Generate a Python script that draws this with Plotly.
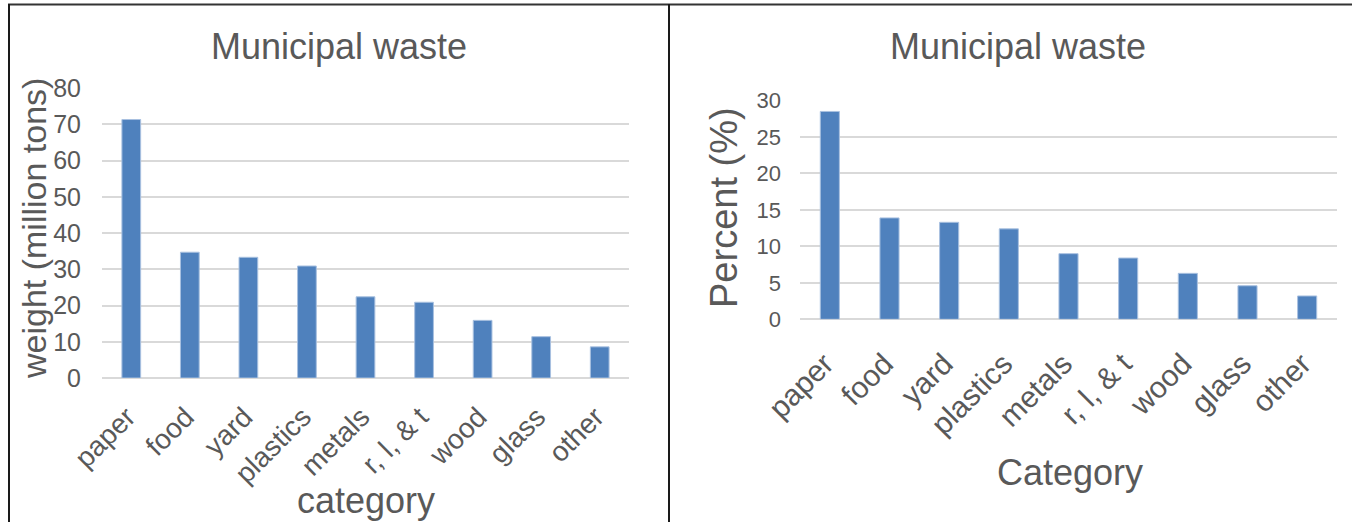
import plotly.graph_objects as go

# Municipal solid waste by material category
categories = ["paper", "food", "yard", "plastics", "metals", "r, l, & t", "wood", "glass", "other"]
weight_million_tons = [71.3, 34.7, 33.3, 30.9, 22.4, 20.9, 15.9, 11.4, 8.6]
percent_of_total = [28.5, 13.9, 13.3, 12.4, 9.0, 8.4, 6.3, 4.6, 3.2]

W, H = 1352, 522
BAR = "#4F81BD"
EDGE = "#A9C1E0"
TXT = "#595959"
GRID = "#D9D9D9"
FONT = "Liberation Sans, Arial, sans-serif"


def px_x(v):
    return v / W


def px_y(v):
    return 1 - v / H


fig = go.Figure()

fig.add_trace(go.Bar(
    x=categories, y=weight_million_tons, xaxis="x", yaxis="y",
    marker=dict(color=BAR, line=dict(color=EDGE, width=1)),
    showlegend=False,
))
fig.add_trace(go.Bar(
    x=categories, y=percent_of_total, xaxis="x2", yaxis="y2",
    marker=dict(color=BAR, line=dict(color=EDGE, width=1)),
    showlegend=False,
))

common_x = dict(
    type="category", showgrid=False, showline=False, zeroline=False,
    ticks="", tickangle=-45, automargin=False,
)
common_y = dict(
    showgrid=True, gridcolor=GRID, gridwidth=1.5, zeroline=True,
    zerolinecolor=GRID, zerolinewidth=1.5, showline=False, ticks="",
    automargin=False,
)

fig.update_layout(
    template="none",
    width=W, height=H,
    margin=dict(l=0, r=0, t=0, b=0, pad=0),
    paper_bgcolor="white", plot_bgcolor="white",
    bargap=0.68,
    xaxis=dict(common_x, domain=[px_x(102), px_x(629)], anchor="y",
               tickfont=dict(family=FONT, color=TXT, size=28),
               ticklabelstandoff=16, ticklabelshift=-4),
    yaxis=dict(common_y, domain=[px_y(378), px_y(88)], anchor="x",
               range=[0, 80], dtick=10,
               tickfont=dict(family=FONT, color=TXT, size=25), ticklabelstandoff=20),
    xaxis2=dict(common_x, domain=[px_x(800), px_x(1337)], anchor="y2",
                tickfont=dict(family=FONT, color=TXT, size=30),
                ticklabelstandoff=20, ticklabelshift=-5),
    yaxis2=dict(common_y, domain=[px_y(319.3), px_y(100.5)], anchor="x2",
                range=[0, 30], dtick=5,
                tickfont=dict(family=FONT, color=TXT, size=22), ticklabelstandoff=18),
)

annotations = [
    dict(text="Municipal waste", x=px_x(339), y=px_y(47), size=36, angle=0),
    dict(text="Municipal waste", x=px_x(1018), y=px_y(47), size=36, angle=0),
    dict(text="weight (million tons)", x=px_x(34), y=px_y(229), size=34, angle=-90),
    dict(text="Percent (%)", x=px_x(724), y=px_y(208), size=38, angle=-90),
    dict(text="category", x=px_x(366), y=px_y(500), size=36, angle=0),
    dict(text="Category", x=px_x(1070), y=px_y(472), size=36, angle=0),
]
for a in annotations:
    fig.add_annotation(
        text=a["text"], x=a["x"], y=a["y"], xref="paper", yref="paper",
        xanchor="center", yanchor="middle", showarrow=False, textangle=a["angle"],
        font=dict(family=FONT, color=TXT, size=a["size"]),
    )

# Panel frame lines
frame = dict(color="#1A1A1A", width=2)
fig.add_shape(type="line", xref="paper", yref="paper",
              x0=px_x(8), x1=1, y0=px_y(4.5), y1=px_y(4.5), line=dict(color="#333333", width=2))
fig.add_shape(type="line", xref="paper", yref="paper",
              x0=px_x(9), x1=px_x(9), y0=px_y(4), y1=0, line=frame)
fig.add_shape(type="line", xref="paper", yref="paper",
              x0=px_x(669), x1=px_x(669), y0=px_y(4), y1=0, line=frame)

fig.write_html("out.html")
